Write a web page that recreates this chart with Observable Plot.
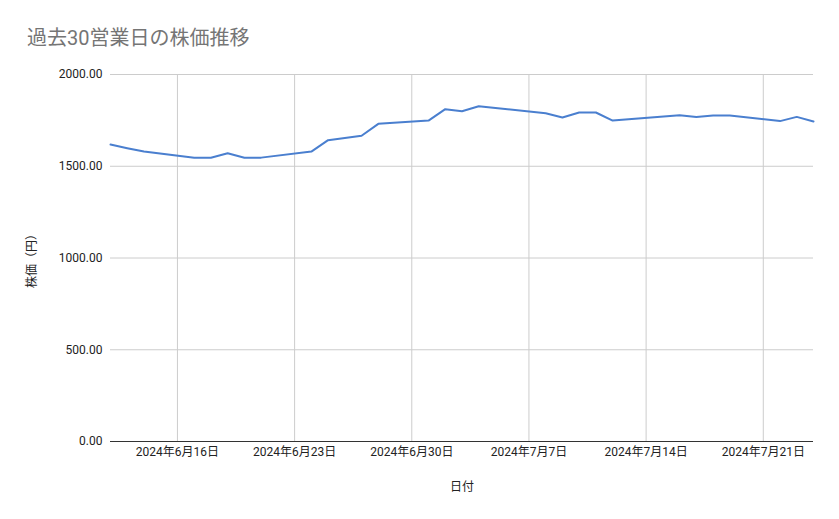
<!DOCTYPE html>
<html>
<head>
<meta charset="utf-8">
<script src="https://cdn.jsdelivr.net/npm/d3@7"></script>
<script src="https://cdn.jsdelivr.net/npm/@observablehq/plot@0.6"></script>
<style>
  body { margin: 0; background: #fff; }
  #wrap { width: 839px; height: 519px; position: relative; overflow: hidden; }
  #title { position: relative; height: 60px; }
  #title span { position: absolute; left: 27px; top: 28px; font-size: 20px; line-height: 1; color: #757575;
    font-family: Roboto, "Noto Sans CJK JP", sans-serif; }
  svg { display: block; }
</style>
</head>
<body>
<div id="wrap">
  <div id="title"><span>過去30営業日の株価推移</span></div>
  <div id="chart"></div>
</div>
<script>
const titleText = "過去30営業日の株価推移";
const xLabel = "日付";
const yLabel = "株価（円）";

const dates = ["2024-06-12","2024-06-13","2024-06-14","2024-06-17","2024-06-18","2024-06-19","2024-06-20","2024-06-21",
  "2024-06-24","2024-06-25","2024-06-26","2024-06-27","2024-06-28","2024-07-01","2024-07-02","2024-07-03","2024-07-04",
  "2024-07-05","2024-07-08","2024-07-09","2024-07-10","2024-07-11","2024-07-12","2024-07-16","2024-07-17","2024-07-18",
  "2024-07-19","2024-07-22","2024-07-23","2024-07-24"];
const prices = [1618,1598,1580,1546,1546,1571,1546,1547,1580,1642,1654,1666,1731,1749,1811,1800,1827,1818,1789,1766,
  1793,1793,1749,1778,1769,1777,1777,1746,1769,1744];

const xTicks = ["2024-06-16","2024-06-23","2024-06-30","2024-07-07","2024-07-14","2024-07-21"];
const yTicks = [0, 500, 1000, 1500, 2000];
const xDomain = ["2024-06-12", "2024-07-24"];

const data = dates.map((d, i) => ({date: new Date(d), price: prices[i]}));
const xt = xTicks.map(d => new Date(d));
const fmtDate = d => `${d.getUTCFullYear()}年${d.getUTCMonth() + 1}月${d.getUTCDate()}日`;

document.querySelector("#title span").textContent = titleText;

const chart = Plot.plot({
  width: 839,
  height: 459,
  marginTop: 14,
  marginBottom: 78,
  marginLeft: 110,
  marginRight: 26,
  style: {fontFamily: 'Roboto, "Noto Sans CJK JP", sans-serif', fontSize: "12px", color: "#222", background: "#fff"},
  x: {type: "utc", domain: xDomain.map(d => new Date(d)), ticks: xt, tickFormat: fmtDate, tickSize: 0, tickPadding: 6,
      label: xLabel, labelAnchor: "center", labelArrow: "none", labelOffset: 49},
  y: {domain: [0, 2000], ticks: yTicks, tickFormat: d => d.toFixed(2), tickSize: 0, tickPadding: 8,
      label: yLabel, labelAnchor: "center", labelArrow: "none", labelOffset: 83},
  marks: [
    Plot.gridX(xt, {stroke: "#cccccc", strokeOpacity: 1}),
    Plot.gridY(yTicks, {stroke: "#cccccc", strokeOpacity: 1}),
    Plot.ruleY([0], {stroke: "#333"}),
    Plot.lineY(data, {x: "date", y: "price", stroke: "#4a7fcf", strokeWidth: 2}),
  ]
});
document.getElementById("chart").appendChild(chart);
</script>
</body>
</html>
